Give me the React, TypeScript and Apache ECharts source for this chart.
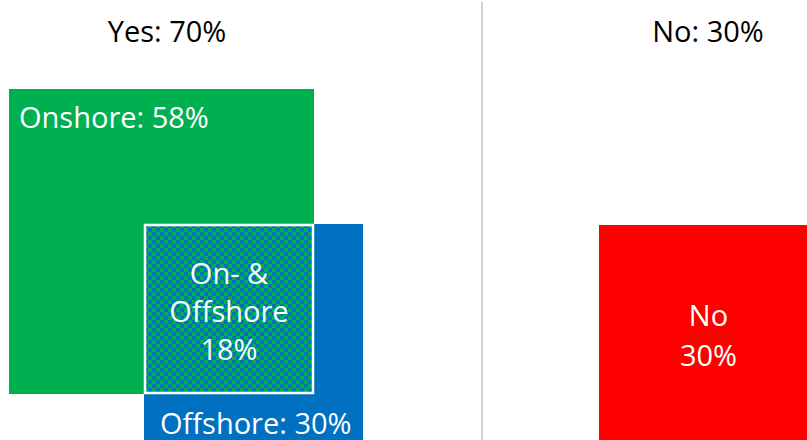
import React, { useEffect, useRef } from "react";
import * as echarts from "echarts";

// ---- data ----
const groupNames = ["Yes", "No"];
const groupValues = [70, 30];
const setNames = ["Onshore", "Offshore", "No"];
const setValues = [58, 30, 30];
const overlapName = "On- &\nOffshore";
const overlapValue = 18;

// ---- layout / style ----
const W = 807;
const H = 440;
const UNIT = 40; // px per sqrt(percent) unit
const GREEN = "#00B050";
const BLUE = "#0070C0";
const RED = "#FF0000";
const FONT = '"Open Sans", "Noto Sans", sans-serif';
const FS = 29;
const CELL = 4;

export default function App() {
  const ref = useRef<HTMLDivElement>(null);
  useEffect(() => {
    if (!ref.current) return;
    const chart = echarts.init(ref.current, undefined, { renderer: "svg" });

    const sOn = Math.sqrt(setValues[0]);
    const sOff = Math.sqrt(setValues[1]);
    const sNo = Math.sqrt(setValues[2]);
    const sBoth = Math.sqrt(overlapValue);
    const onX = 9 / UNIT;
    const onY = 89 / UNIT;
    const offX = onX + sOn - sBoth;
    const offY = onY + sOn - sBoth;
    const noX = 599 / UNIT;
    const noY = 225 / UNIT;

    // [x, y, side, kind]
    const data = [
      [onX, onY, sOn, 0],
      [offX, offY, sOff, 1],
      [offX, offY, sBoth, 3],
      [noX, noY, sNo, 2],
    ];

    const renderItem = (params: any, api: any) => {
      const x = api.value(0);
      const y = api.value(1);
      const s = api.value(2);
      const kind = api.value(3);
      const q0 = api.coord([x, y]);
      const q1 = api.coord([x + s, y + s]);
      const p0 = [Math.round(q0[0]), Math.round(q0[1])];
      const p1 = [Math.round(q1[0]), Math.round(q1[1])];
      const w = p1[0] - p0[0];
      const h = p1[1] - p0[1];
      const textBase = { fill: "#fff", fontSize: FS, fontFamily: FONT, lineHeight: FS };
      if (kind === 0) {
        return {
          type: "group",
          children: [
            { type: "rect", shape: { x: p0[0], y: p0[1], width: w, height: h }, style: { fill: GREEN } },
            {
              type: "text",
              style: { ...textBase, text: `${setNames[0]}: ${setValues[0]}%`, x: p0[0] + 10, y: p0[1] + 27, align: "left", verticalAlign: "middle" },
            },
          ],
        };
      }
      if (kind === 1) {
        return {
          type: "group",
          children: [
            { type: "rect", shape: { x: p0[0], y: p0[1], width: w, height: h }, style: { fill: BLUE } },
            {
              type: "text",
              style: { ...textBase, text: `${setNames[1]}: ${setValues[1]}%`, x: p0[0] + 16, y: p1[1] - 21, align: "left", verticalAlign: "middle" },
            },
          ],
        };
      }
      if (kind === 3) {
        const cells: any[] = [];
        const nx = Math.ceil(w / CELL);
        const ny = Math.ceil(h / CELL);
        for (let j = 0; j < ny; j++) {
          for (let i = 0; i < nx; i++) {
            if ((i + j) % 2 === 0) {
              const cx = p0[0] + i * CELL;
              const cy = p0[1] + j * CELL;
              cells.push({
                type: "rect",
                shape: { x: cx, y: cy, width: Math.min(CELL, p1[0] - cx), height: Math.min(CELL, p1[1] - cy) },
                style: { fill: BLUE },
              });
            }
          }
        }
        return {
          type: "group",
          children: [
            { type: "rect", shape: { x: p0[0], y: p0[1], width: w, height: h }, style: { fill: GREEN } },
            ...cells,
            {
              type: "rect",
              shape: { x: p0[0] + 1, y: p0[1] + 1, width: w - 2, height: h - 2 },
              style: { fill: "none", stroke: "#fff", lineWidth: 2.5 },
            },
            {
              type: "text",
              style: {
                ...textBase,
                text: `${overlapName}\n${overlapValue}%`,
                x: (p0[0] + p1[0]) / 2,
                y: (p0[1] + p1[1]) / 2 + 1,
                align: "center",
                verticalAlign: "middle",
                lineHeight: 38,
              },
            },
          ],
        };
      }
      return {
        type: "group",
        children: [
          { type: "rect", shape: { x: p0[0], y: p0[1], width: w, height: h }, style: { fill: RED } },
          {
            type: "text",
            style: {
              ...textBase,
              text: `${setNames[2]}\n${setValues[2]}%`,
              x: (p0[0] + p1[0]) / 2,
              y: (p0[1] + p1[1]) / 2,
              align: "center",
              verticalAlign: "middle",
              lineHeight: 40,
            },
          },
        ],
      };
    };

    chart.setOption({
      animation: false,
      grid: { left: 0, top: 0, width: W, height: H },
      xAxis: { type: "value", min: 0, max: W / UNIT, show: false },
      yAxis: { type: "value", min: 0, max: H / UNIT, inverse: true, show: false },
      series: [
        {
          type: "custom",
          renderItem,
          data,
          silent: true,
        },
      ],
      graphic: [
        {
          type: "line",
          shape: { x1: 482, y1: 2, x2: 482, y2: H },
          style: { stroke: "#D0D0D0", lineWidth: 2 },
          z: 10,
        },
        {
          type: "text",
          x: 167,
          y: 30,
          style: {
            text: `${groupNames[0]}: ${groupValues[0]}%`,
            fill: "#000",
            fontSize: FS,
            fontFamily: FONT,
            align: "center",
            verticalAlign: "middle",
          },
        },
        {
          type: "text",
          x: 708,
          y: 30,
          style: {
            text: `${groupNames[1]}: ${groupValues[1]}%`,
            fill: "#000",
            fontSize: FS,
            fontFamily: FONT,
            align: "center",
            verticalAlign: "middle",
          },
        },
      ],
    });
    return () => chart.dispose();
  }, []);

  return (
    <div
      ref={ref}
      style={{ position: "fixed", left: 0, top: 0, width: W, height: H, background: "#fff" }}
    />
  );
}
